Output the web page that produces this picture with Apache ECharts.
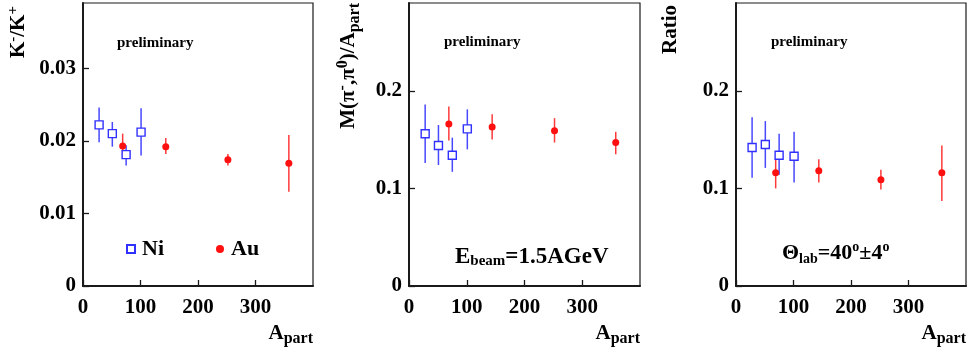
<!DOCTYPE html>
<html><head><meta charset="utf-8">
<script src="https://cdn.jsdelivr.net/npm/echarts@6/dist/echarts.min.js"></script>
<style>html,body{margin:0;padding:0;background:#fff}#c{width:969px;height:352px}</style>
</head><body><div id="c"></div>
<script>
// A_part values
const aPartNi = [28, 51, 75, 101];
const aPartAu = [69, 144, 252, 358];
// Panel 1: K-/K+
const kNi = [0.0222, 0.0210, 0.0181, 0.0212];
const kNiLo = [0.0198, 0.0192, 0.0166, 0.0180];
const kNiHi = [0.0246, 0.0226, 0.0194, 0.0245];
const kAu = [0.0193, 0.0192, 0.0174, 0.0169];
const kAuLo = [0.0180, 0.0182, 0.0166, 0.0130];
const kAuHi = [0.0210, 0.0204, 0.0182, 0.0208];
// Panel 2: M(pi-,pi0)/A_part
const mNi = [0.156, 0.144, 0.134, 0.161];
const mNiLo = [0.126, 0.124, 0.117, 0.140];
const mNiHi = [0.186, 0.165, 0.152, 0.181];
const mAu = [0.166, 0.163, 0.159, 0.147];
const mAuLo = [0.149, 0.150, 0.147, 0.135];
const mAuHi = [0.184, 0.176, 0.172, 0.158];
// Panel 3: Ratio
const rNi = [0.142, 0.145, 0.134, 0.133];
const rNiLo = [0.111, 0.121, 0.114, 0.106];
const rNiHi = [0.173, 0.169, 0.156, 0.158];
const rAu = [0.116, 0.118, 0.109, 0.116];
const rAuLo = [0.100, 0.106, 0.099, 0.087];
const rAuHi = [0.130, 0.130, 0.119, 0.144];
// ticks
const xTicks = {min: 0, max: 400, interval: 100};
const yTicks = [{min: 0, max: 0.039, interval: 0.01, dec: 2}, {min: 0, max: 0.29, interval: 0.1, dec: 1}, {min: 0, max: 0.29, interval: 0.1, dec: 1}];

const FONT = 'Liberation Serif';
const BLUE = '#3030ff', BLUE_ERR = '#4848ff', RED = '#ff1010', RED_ERR = '#ff3a3a';
const AX = '#1a1a1a';

const chart = echarts.init(document.getElementById('c'));
const grids = [
  {left: 83, top: 3, width: 230, height: 283},
  {left: 409, top: 3, width: 231, height: 283},
  {left: 736, top: 3, width: 230, height: 283}
].map(g => Object.assign({show: true, borderColor: AX, borderWidth: 1.2, containLabel: false}, g));

const labelStyle = {fontFamily: FONT, fontWeight: 'bold', fontSize: 21, color: '#000'};
const xAxes = grids.map((g, i) => ({
  type: 'value', gridIndex: i, min: xTicks.min, max: xTicks.max, interval: xTicks.interval,
  axisLine: {show: true, onZero: false, lineStyle: {color: AX, width: 2}},
  axisTick: {show: true, inside: true, length: 6, lineStyle: {color: AX, width: 1.3}},
  axisLabel: Object.assign({margin: 11, showMaxLabel: false}, labelStyle),
  splitLine: {show: false}
}));
const yAxes = yTicks.map((t, i) => ({
  type: 'value', gridIndex: i, min: t.min, max: t.max, interval: t.interval,
  axisLine: {show: true, onZero: false, lineStyle: {color: AX, width: 2}},
  axisTick: {show: true, inside: true, length: 6, lineStyle: {color: AX, width: 1.3}},
  axisLabel: Object.assign({margin: 7, showMaxLabel: false,
    formatter: v => Math.abs(v) < 1e-9 ? '0' : v.toFixed(t.dec)}, labelStyle),
  splitLine: {show: false}
}));

function errSeries(i, xs, lo, hi, color) {
  return {
    type: 'custom', xAxisIndex: i, yAxisIndex: i, silent: true, z: 1,
    data: xs.map((x, k) => [x, lo[k], hi[k]]),
    encode: {x: 0, y: [1, 2]},
    renderItem: (params, api) => {
      const p1 = api.coord([api.value(0), api.value(1)]);
      const p2 = api.coord([api.value(0), api.value(2)]);
      return {type: 'line', shape: {x1: p1[0], y1: p1[1], x2: p2[0], y2: p2[1]},
        style: {stroke: color, lineWidth: 1.5}};
    }
  };
}
function niSeries(i, xs, ys) {
  return {type: 'scatter', name: 'Ni', xAxisIndex: i, yAxisIndex: i, z: 3,
    symbol: 'rect', symbolSize: 8,
    itemStyle: {color: '#fff', borderColor: BLUE, borderWidth: 1.4, opacity: 1},
    data: xs.map((x, k) => [x, ys[k]])};
}
function auSeries(i, xs, ys) {
  return {type: 'scatter', name: 'Au', xAxisIndex: i, yAxisIndex: i, z: 3,
    symbol: 'circle', symbolSize: 7,
    itemStyle: {color: RED, opacity: 1},
    data: xs.map((x, k) => [x, ys[k]])};
}
const panels = [
  [kNi, kNiLo, kNiHi, kAu, kAuLo, kAuHi],
  [mNi, mNiLo, mNiHi, mAu, mAuLo, mAuHi],
  [rNi, rNiLo, rNiHi, rAu, rAuLo, rAuHi]
];
const series = [];
panels.forEach((p, i) => {
  series.push(errSeries(i, aPartNi, p[1], p[2], BLUE_ERR));
  series.push(errSeries(i, aPartAu, p[4], p[5], RED_ERR));
  series.push(niSeries(i, aPartNi, p[0]));
  series.push(auSeries(i, aPartAu, p[3]));
});

const B = {fontFamily: FONT, fontWeight: 'bold', fill: '#000'};
function rich(main, sub) {
  return {
    a: {fontFamily: FONT, fontWeight: 'bold', fontSize: main, color: '#000', verticalAlign: 'middle'},
    sup: {fontFamily: FONT, fontWeight: 'bold', fontSize: sub, color: '#000', verticalAlign: 'top', padding: [0, 0, 12, 0]},
    sub: {fontFamily: FONT, fontWeight: 'bold', fontSize: sub, color: '#000', verticalAlign: 'bottom', padding: [9, 0, 0, 0]}
  };
}
function txt(x, y, text, r, opts) {
  return Object.assign({type: 'text', x: x, y: y, z: 10,
    style: Object.assign({text: text, rich: r, align: 'left', verticalAlign: 'middle'}, opts || {})});
}
const graphics = [];
// preliminary labels
[[117, 43], [444, 42], [771, 42]].forEach(p => {
  graphics.push({type: 'text', x: p[0], y: p[1], z: 10,
    style: Object.assign({text: 'preliminary', fontSize: 15, align: 'left', verticalAlign: 'middle'}, B)});
});
// x-axis titles
[313, 640, 966].forEach(xr => {
  graphics.push(txt(xr, 334, '{a|A}{sub|part}', rich(21, 16), {align: 'right'}));
});
// y-axis titles (rotated)
graphics.push(Object.assign(txt(19, 6, '{a|K}{sup|-}{a|/K}{sup|+}', rich(21, 15), {align: 'right'}), {rotation: Math.PI / 2}));
graphics.push(Object.assign(txt(349, 3, '{a|M(π}{sup|-}{a|,π}{sup|0}{a|)/A}{sub|part}', rich(21, 16), {align: 'right'}), {rotation: Math.PI / 2}));
graphics.push(Object.assign(txt(671, 5, '{a|Ratio}', rich(21, 15), {align: 'right'}), {rotation: Math.PI / 2}));
// annotations
graphics.push(txt(455, 257, '{a|E}{sub|beam}{a|=1.5AGeV}', rich(23, 15)));
graphics.push(txt(782, 253, '{a|Θ}{sub|lab}{a|=40}{sup|o}{a|±4}{sup|o}', rich(22, 14)));

chart.setOption({
  animation: false,
  backgroundColor: '#fff',
  grid: grids,
  xAxis: xAxes,
  yAxis: yAxes,
  legend: {
    left: 126, top: 238, padding: 0, itemWidth: 8, itemHeight: 8, itemGap: 52, selectedMode: false,
    data: ['Ni', 'Au'],
    textStyle: {fontFamily: FONT, fontWeight: 'bold', fontSize: 22, color: '#000', padding: [0, 0, 0, 2]}
  },
  series: series,
  graphic: graphics
});
</script>
</body></html>
